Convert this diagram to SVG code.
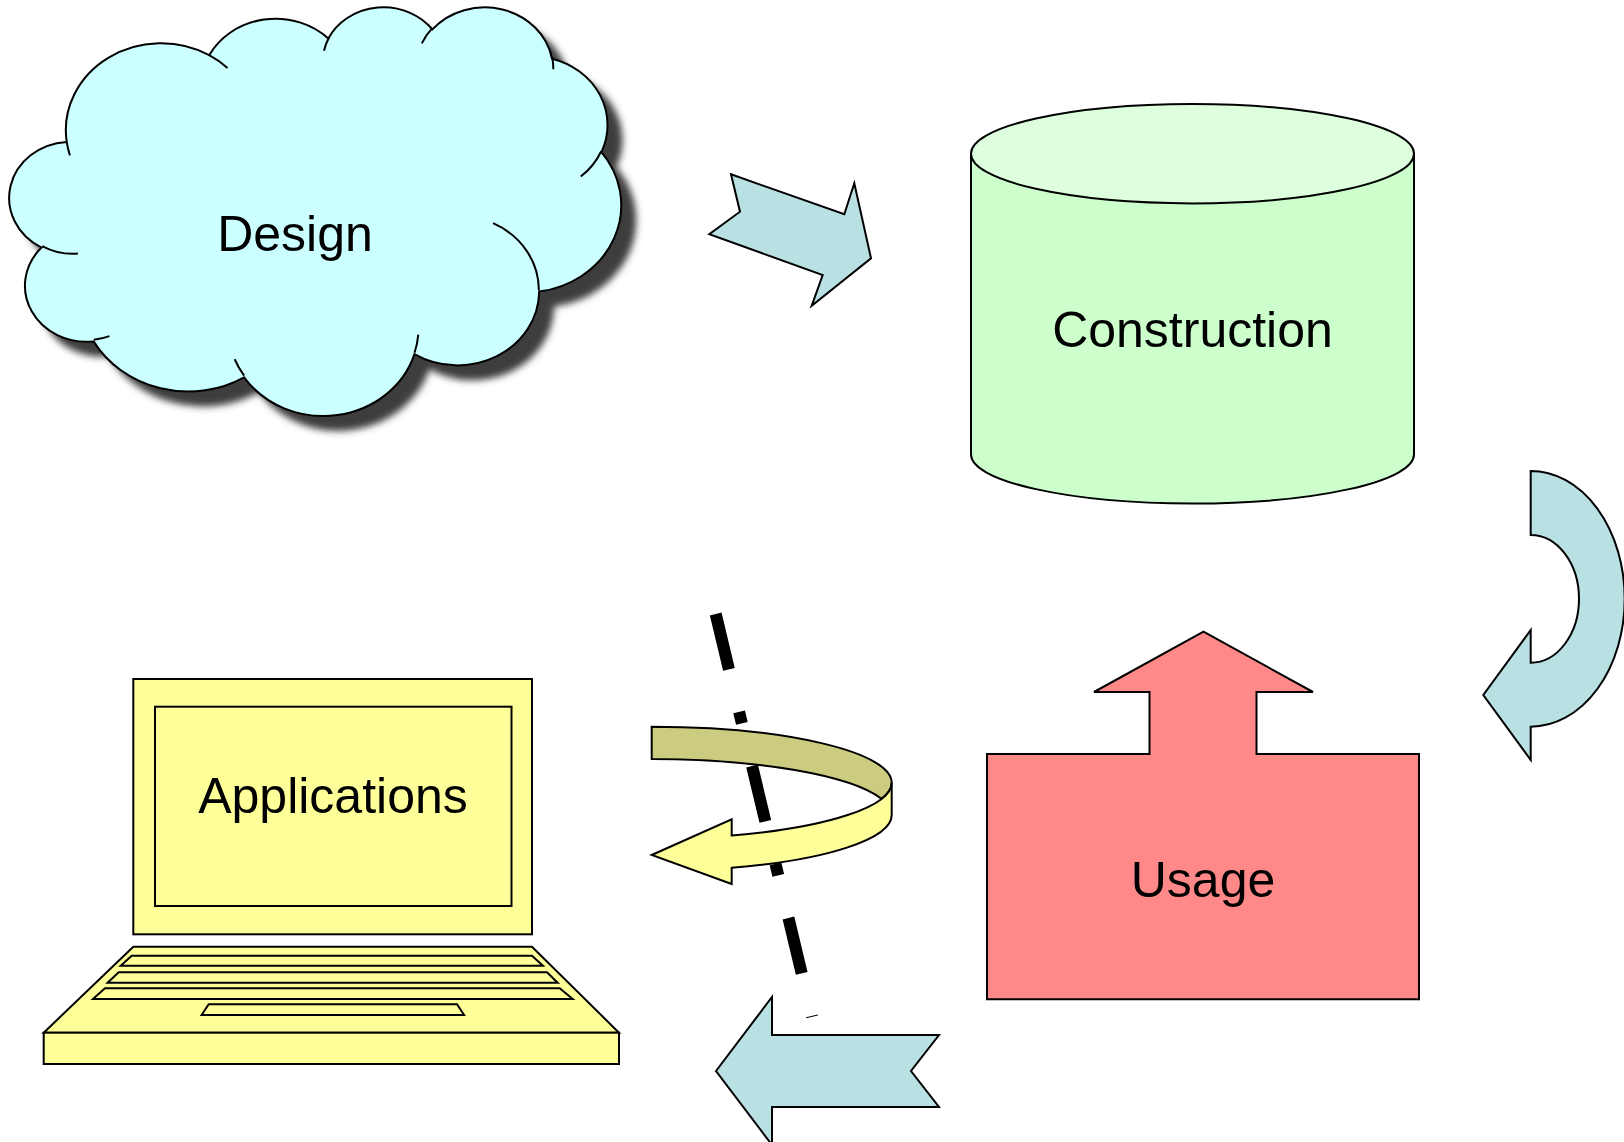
<svg xmlns="http://www.w3.org/2000/svg" width="1624" height="1142" viewBox="0 0 1624 1142">
<style>
.lbl{font-family:"Liberation Sans",Arial,sans-serif;font-size:50px;fill:#000;text-anchor:middle}
.ol{stroke:#000;stroke-width:2;stroke-linejoin:miter}
.blue{fill:#b9e0e3}
.tail{fill:none;stroke:#000;stroke-width:2}
</style>
<defs>
<filter id="blur" x="-10%" y="-10%" width="120%" height="120%"><feGaussianBlur stdDeviation="3.5"/></filter>
<path id="cloudShape" d="M66.7,141.9 A95.25,86.91 0 0 1 209.18,55.21 A75.22,68.72 0 0 1 328.35,38.43 A61.56,56.22 0 0 1 432.39,29.43 A68.5,62.37 0 0 1 552.07,58.7 A75.22,68.78 0 0 1 601.44,152.17 A95.56,87.19 0 0 1 539.18,291.6 A81.59,74.4 0 0 1 414.42,354.13 A95.23,87.15 0 0 1 244.1,377.31 A108.88,99.71 0 0 1 93.6,341.4 A61.49,55.97 0 0 1 41.52,247.59 A61.28,56.22 0 0 1 66.7,141.9 Z"/>
</defs>
<rect width="1624" height="1142" fill="#fff"/>

<g id="connectors">
  <polygon id="arrow-design-construction" class="blue ol" points="731,174.3 844.3,214.3 854.3,183.3 871,258.3 811.7,305.7 822.7,275 709.3,234.3 740,211.7"/>
  <path id="arrow-construction-usage" class="blue ol" d="M1530.7,471 A94,127.85 0 0 1 1530.7,726.7 L1530.7,760 L1483.3,695 L1530.7,630 L1530.7,662.7 A48.3,63.85 0 0 0 1530.7,535 Z"/>
  <path id="arrow-usage-applications" class="blue ol" d="M716,1071 L772,997 L772,1035 L939,1035 L911,1071 L939,1107 L772,1107 L772,1145 Z"/>
  <path id="dash-axis" d="M715.7,614 L812.1,1016.8" fill="none" stroke="#000" stroke-width="12" stroke-dasharray="56.9 43.7 11.9 43.8"/>
  <g id="rotate-arrow">
    <path d="M651.7,726.7 A240,56 0 0 1 891.7,782.7 A240,56 0 0 1 881.5,798.8 A240,56 0 0 0 651.7,759 Z" fill="#cccc80" class="ol"/>
    <path d="M891.7,782.7 L891.7,815 A240,56 0 0 1 731.7,867.8 L731.7,884 L651.7,855 L731.7,819.3 L731.7,835.5 A240,56 0 0 0 891.7,782.7 Z" fill="#ffff99" class="ol"/>
  </g>
</g>

<g id="design">
  <use href="#cloudShape" fill="#3c3c3c" transform="translate(15,15)" filter="url(#blur)"/>
  <use href="#cloudShape" fill="#ccffff" class="ol"/>
  <path class="tail" d="M77.89,253.6 A61.28,56.22 0 0 1 42.16,246.06 M109.41,336.08 A61.49,55.97 0 0 1 93.79,339.69 M244.11,375.71 A95.23,87.15 0 0 1 234.69,359.26 M418.28,334.68 A95.23,87.15 0 0 1 414.52,352.73 M493.06,223.12 A81.59,74.4 0 0 1 538.88,290.58 M601.22,151.24 A75.22,68.78 0 0 1 580.76,176.58 M552.22,57.35 A68.5,62.37 0 0 1 553.3,69.3 M421.83,43.41 A68.5,62.37 0 0 1 432.29,28.17 M323.98,50.68 A61.56,56.22 0 0 1 329.04,37.53 M209.16,55.14 A95.25,86.91 0 0 1 227.53,67.91 M69.91,155.36 A95.25,86.91 0 0 1 66.71,141.93"/>
  <text class="lbl" x="295" y="251">Design</text>
</g>

<g id="construction">
  <path d="M971,153.7 L971,454.5 A221.5,49 0 0 0 1414,454.5 L1414,153.7 Z" fill="#ccffcc" class="ol"/>
  <ellipse cx="1192.5" cy="153.7" rx="221.5" ry="49.7" fill="#ddffdd" class="ol"/>
  <text class="lbl" x="1192.5" y="347">Construction</text>
</g>

<g id="usage">
  <polygon points="987,754 1149.5,754 1149.5,692 1094,692 1203.5,631.7 1313,692 1256.5,692 1256.5,754 1419,754 1419,999.3 987,999.3" fill="#ff8888" class="ol"/>
  <text class="lbl" x="1203" y="897">Usage</text>
</g>

<g id="applications" fill="#ffff99" class="ol">
  <rect x="133.3" y="679" width="398.7" height="255.3"/>
  <rect x="155" y="706.7" width="356.5" height="199.3"/>
  <polygon points="133.3,946.7 532,946.7 619,1032.7 43.7,1032.7"/>
  <rect x="43.7" y="1032.7" width="575.3" height="31.3"/>
  <polygon points="131.7,955.7 532,955.7 542.9,965.7 120.7,965.7"/>
  <polygon points="118.7,972.3 547,972.3 557.7,982.7 107.6,982.7"/>
  <polygon points="104.9,988.3 559.7,988.3 572.7,999 93,999"/>
  <polygon points="208.7,1004.3 457,1004.3 464.1,1015 201.6,1015"/>
  <text class="lbl" x="333" y="813" stroke="none">Applications</text>
</g>
</svg>
